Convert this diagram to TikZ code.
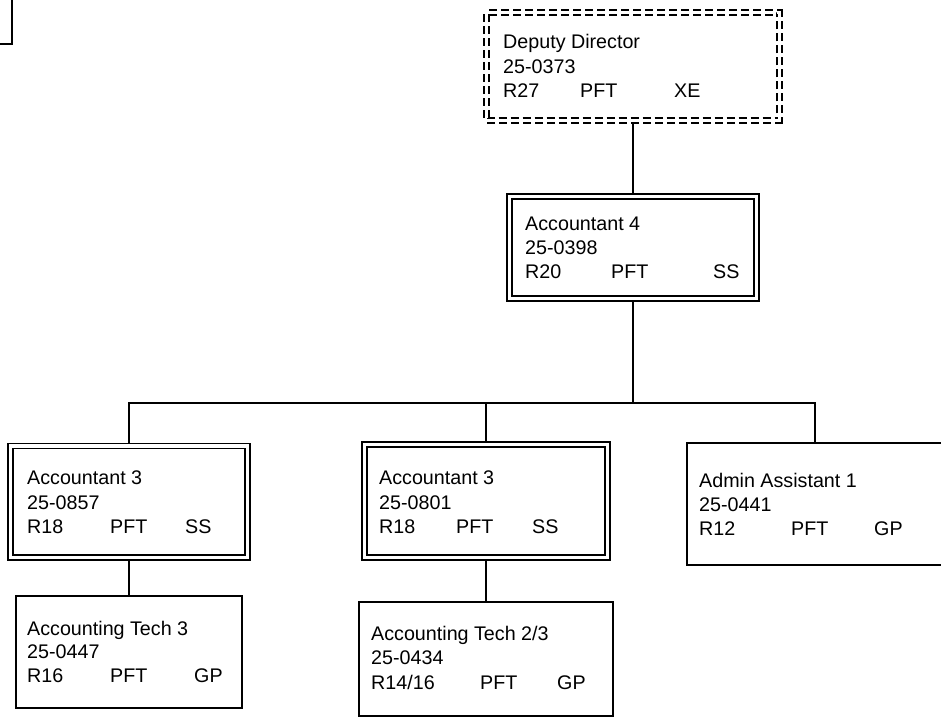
\documentclass[tikz,border=0pt]{standalone}
\usepackage{fontspec}
\setmainfont{Liberation Sans}
\usetikzlibrary{backgrounds}
\tikzset{
  x=1pt, y=-1pt,
  box/.style={draw, line width=1.5pt, fill=white, rectangle, inner sep=0pt},
  dbox/.style={draw, line width=1.5pt, double=white, double distance=3.2pt, rectangle, inner sep=0pt},
  ddbox/.style={dbox, dash pattern=on 8pt off 4pt},
  conn/.style={line width=1.5pt},
  lbl/.style={anchor=base west, inner sep=0pt, font=\fontsize{19.7}{24}\selectfont},
}
\newcommand\mkbox[6]{% style, name, left, top, right, bottom
  \node[#1, minimum width={(#5)-(#3)}, minimum height={(#6)-(#4)}] (#2) at ({((#3)+(#5))/2},{((#4)+(#6))/2}) {};}
\newcommand\mktext[8]{% name, x, y1, y2, y3, title, num, code
  \node[lbl] (#1a) at (#2,#3) {#6};
  \node[lbl] (#1b) at (#2,#4) {#7};
  \node[lbl] (#1c) at (#2,#5) {#8};}
\begin{document}
\begin{tikzpicture}
\useasboundingbox (0,0) rectangle (941,719);
\clip (0,0) rectangle (941,719);
% fragment top-left
\coordinate (fragA) at (12,0);
\coordinate (fragB) at (0,44);
\draw[conn] (fragA) |- (fragB);
% boxes
\mkbox{ddbox}{dd}{486.5}{12.5}{779.5}{120.5}
\mkbox{dbox}{a4}{509.5}{196.5}{756.5}{298.5}
\mkbox{dbox}{a3l}{10.5}{446}{247.5}{557.5}
\mkbox{dbox}{a3m}{364.5}{444.5}{607.5}{557.5}
\mkbox{box}{adm}{687}{443}{943}{565}
\mkbox{box}{at3}{16}{596}{242}{708}
\mkbox{box}{at23}{359}{602}{613}{716}
% texts
\mktext{tdd}{503}{49}{74}{98}{Deputy Director}{25-0373}{R27}
\node[lbl] (tddp) at (580,98) {PFT};
\node[lbl] (tddg) at (674,98) {XE};
\mktext{ta4}{525}{230}{254}{278}{Accountant 4}{25-0398}{R20}
\node[lbl] (ta4p) at (611,278) {PFT};
\node[lbl] (ta4g) at (713,278) {SS};
\mktext{ta3l}{27}{484}{509}{533}{Accountant 3}{25-0857}{R18}
\node[lbl] (ta3lp) at (110,533) {PFT};
\node[lbl] (ta3lg) at (185,533) {SS};
\mktext{ta3m}{379}{484}{509}{533}{Accountant 3}{25-0801}{R18}
\node[lbl] (ta3mp) at (456,533) {PFT};
\node[lbl] (ta3mg) at (532,533) {SS};
\mktext{tadm}{699}{487}{511}{535}{Admin Assistant 1}{25-0441}{R12}
\node[lbl] (tadmp) at (791,535) {PFT};
\node[lbl] (tadmg) at (874,535) {GP};
\mktext{tat3}{27}{635}{658}{682}{Accounting Tech 3}{25-0447}{R16}
\node[lbl] (tat3p) at (110,682) {PFT};
\node[lbl] (tat3g) at (194,682) {GP};
\mktext{tat23}{371}{640}{664}{689}{Accounting Tech 2/3}{25-0434}{R14/16}
\node[lbl] (tat23p) at (480,689) {PFT};
\node[lbl] (tat23g) at (557,689) {GP};
% connectors
\begin{pgfonlayer}{background}
\coordinate (bus) at (633,403);
\draw[conn] (dd.south) -- (a4.north);
\draw[conn] (a4.south) -- (bus);
\draw[conn] (a3l.north) |- (bus) -| (adm.north);
\draw[conn] (a3m.north) -- (a3m.north |- bus);
\draw[conn] (a3l.south) -- (at3.north);
\draw[conn] (a3m.south) -- (at23.north);
\end{pgfonlayer}
\end{tikzpicture}
\end{document}
